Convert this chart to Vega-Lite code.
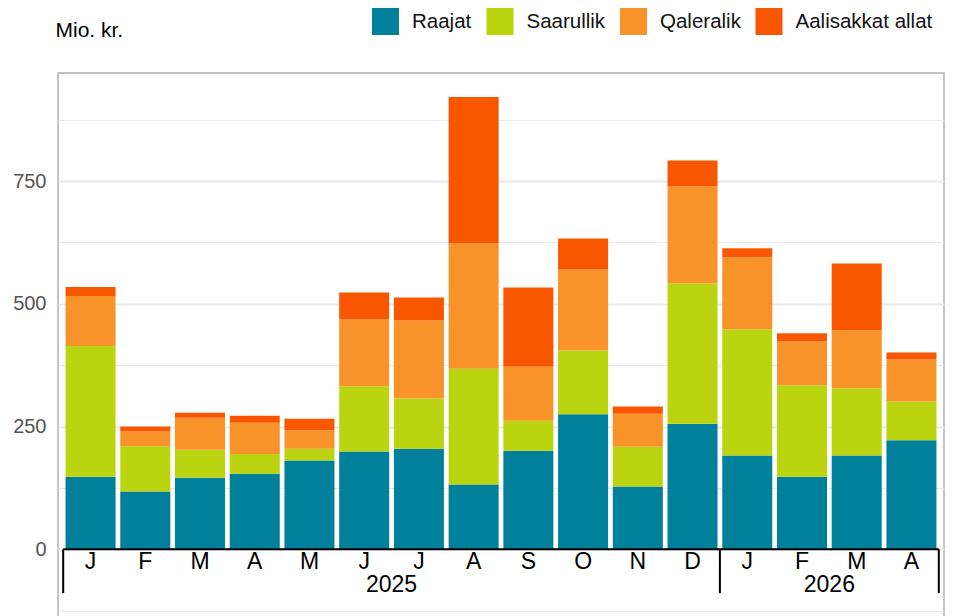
{
  "$schema": "https://vega.github.io/schema/vega-lite/v6.json",
  "width": 886,
  "height": 550,
  "autosize": {"type": "none"},
  "padding": {"left": 58, "top": 73, "right": 13, "bottom": -7},
  "config": {
    "font": "Liberation Sans",
    "view": {"stroke": "#c4c4c4", "strokeWidth": 2}
  },
  "datasets": {
    "main": [
      {"m": "2025-01", "mo": "J", "Raajat": 148, "Saarullik": 266, "Qaleralik": 102, "Aalisakkat allat": 18},
      {"m": "2025-02", "mo": "F", "Raajat": 118, "Saarullik": 92, "Qaleralik": 30, "Aalisakkat allat": 10},
      {"m": "2025-03", "mo": "M", "Raajat": 146, "Saarullik": 57, "Qaleralik": 65, "Aalisakkat allat": 10},
      {"m": "2025-04", "mo": "A", "Raajat": 154, "Saarullik": 40, "Qaleralik": 64, "Aalisakkat allat": 14},
      {"m": "2025-05", "mo": "M", "Raajat": 181, "Saarullik": 24, "Qaleralik": 37, "Aalisakkat allat": 24},
      {"m": "2025-06", "mo": "J", "Raajat": 199, "Saarullik": 133, "Qaleralik": 136, "Aalisakkat allat": 55},
      {"m": "2025-07", "mo": "J", "Raajat": 205, "Saarullik": 102, "Qaleralik": 159, "Aalisakkat allat": 47},
      {"m": "2025-08", "mo": "A", "Raajat": 132, "Saarullik": 236, "Qaleralik": 255, "Aalisakkat allat": 298},
      {"m": "2025-09", "mo": "S", "Raajat": 201, "Saarullik": 61, "Qaleralik": 110, "Aalisakkat allat": 161},
      {"m": "2025-10", "mo": "O", "Raajat": 275, "Saarullik": 130, "Qaleralik": 165, "Aalisakkat allat": 63},
      {"m": "2025-11", "mo": "N", "Raajat": 128, "Saarullik": 81, "Qaleralik": 67, "Aalisakkat allat": 15},
      {"m": "2025-12", "mo": "D", "Raajat": 256, "Saarullik": 286, "Qaleralik": 197, "Aalisakkat allat": 53},
      {"m": "2026-01", "mo": "J", "Raajat": 191, "Saarullik": 257, "Qaleralik": 147, "Aalisakkat allat": 18},
      {"m": "2026-02", "mo": "F", "Raajat": 148, "Saarullik": 186, "Qaleralik": 89, "Aalisakkat allat": 17},
      {"m": "2026-03", "mo": "M", "Raajat": 191, "Saarullik": 137, "Qaleralik": 118, "Aalisakkat allat": 136},
      {"m": "2026-04", "mo": "A", "Raajat": 222, "Saarullik": 79, "Qaleralik": 86, "Aalisakkat allat": 14}
    ],
    "axisline": [{"a": "2025-01", "b": "2026-04"}],
    "startticks": [{"a": "2025-01"}, {"a": "2026-01"}],
    "endticks": [{"a": "2026-04"}],
    "years": [{"yr": "2025", "a": "2025-06"}, {"yr": "2026", "a": "2026-02"}]
  },
  "layer": [
    {
      "data": {"name": "main"},
      "transform": [
        {"fold": ["Raajat", "Saarullik", "Qaleralik", "Aalisakkat allat"], "as": ["serie", "value"]},
        {"window": [{"op": "row_number", "as": "k"}], "groupby": ["m"]}
      ],
      "mark": {"type": "bar"},
      "encoding": {
        "x": {
          "field": "m",
          "type": "nominal",
          "scale": {"paddingInner": 0.086, "paddingOuter": 0.138},
          "axis": null
        },
        "y": {
          "field": "value",
          "type": "quantitative",
          "stack": "zero",
          "scale": {"domain": [-150, 970], "nice": false, "zero": false},
          "axis": {
            "values": [-125, 0, 125, 250, 375, 500, 625, 750, 875],
            "labelExpr": "datum.value >= 0 && datum.value % 250 === 0 ? datum.label : ''",
            "domain": false,
            "ticks": false,
            "labelFontSize": 20,
            "labelColor": "#555555",
            "labelPadding": 12,
            "gridColor": "#e9e9e9",
            "gridWidth": {"condition": {"test": "datum.value % 250 === 0", "value": 2}, "value": 1},
            "title": "Mio. kr.",
            "titleAngle": 0,
            "titleAlign": "left",
            "titleBaseline": "alphabetic",
            "titleX": -3,
            "titleY": -37,
            "titleFontSize": 21,
            "titleFontWeight": "normal",
            "titleColor": "#000000"
          }
        },
        "order": {"field": "k", "type": "quantitative"},
        "color": {
          "field": "serie",
          "type": "nominal",
          "sort": ["Raajat", "Saarullik", "Qaleralik", "Aalisakkat allat"],
          "scale": {
            "domain": ["Raajat", "Saarullik", "Qaleralik", "Aalisakkat allat"],
            "range": ["#00809b", "#bad50f", "#f89329", "#f85700"]
          },
          "legend": {
            "orient": "none",
            "direction": "horizontal",
            "legendX": 314,
            "legendY": -65,
            "title": null,
            "symbolType": "square",
            "symbolSize": 729,
            "symbolStrokeWidth": 0,
            "labelFontSize": 20.5,
            "labelColor": "#111111",
            "labelOffset": 13,
            "columnPadding": 14.5
          }
        }
      }
    },
    {
      "data": {"name": "main"},
      "mark": {"type": "text", "fontSize": 23, "color": "#000000", "baseline": "middle", "align": "center"},
      "encoding": {
        "x": {"field": "m", "type": "nominal", "axis": null},
        "y": {"datum": -26},
        "text": {"field": "mo"}
      }
    },
    {
      "data": {"name": "axisline"},
      "mark": {"type": "rule", "color": "#000000", "strokeWidth": 2},
      "encoding": {
        "x": {"field": "a", "type": "nominal", "bandPosition": -0.047, "axis": null},
        "x2": {"field": "b", "bandPosition": 1.047},
        "y": {"datum": 0}
      }
    },
    {
      "data": {"name": "startticks"},
      "mark": {"type": "rule", "color": "#000000", "strokeWidth": 2},
      "encoding": {
        "x": {"field": "a", "type": "nominal", "bandPosition": -0.047, "axis": null},
        "y": {"datum": 0},
        "y2": {"datum": -89}
      }
    },
    {
      "data": {"name": "endticks"},
      "mark": {"type": "rule", "color": "#000000", "strokeWidth": 2},
      "encoding": {
        "x": {"field": "a", "type": "nominal", "bandPosition": 1.047, "axis": null},
        "y": {"datum": 0},
        "y2": {"datum": -89}
      }
    },
    {
      "data": {"name": "years"},
      "mark": {"type": "text", "fontSize": 23, "color": "#000000", "baseline": "middle", "align": "center"},
      "encoding": {
        "x": {"field": "a", "type": "nominal", "bandPosition": 1.047, "axis": null},
        "y": {"datum": -72.7},
        "text": {"field": "yr"}
      }
    }
  ]
}
